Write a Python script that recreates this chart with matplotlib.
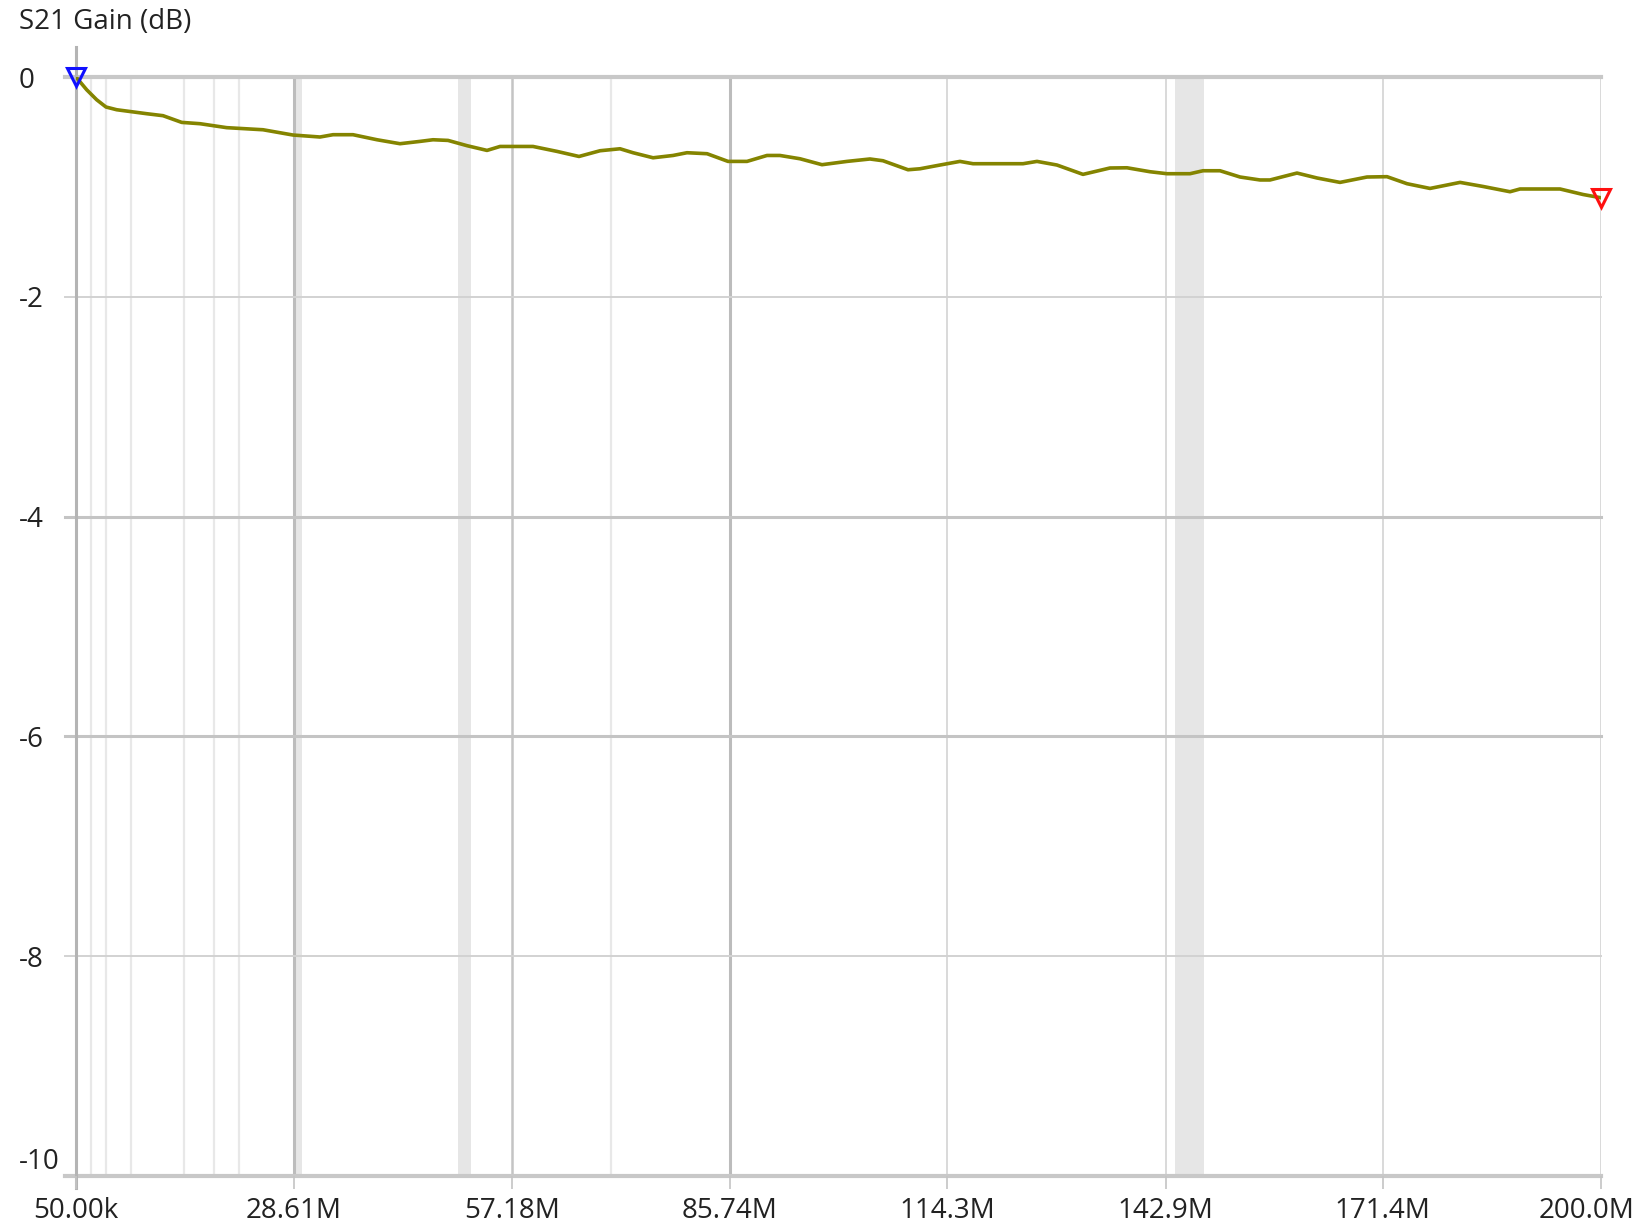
import matplotlib
matplotlib.use('Agg')
import matplotlib.pyplot as plt
import matplotlib.transforms as mtransforms
from matplotlib import font_manager

# trace: frequency (MHz) and S21 gain (dB)
freq_mhz = [0.05, 1.45, 2.76, 3.98, 5.39, 9.32, 11.46, 13.91, 16.31, 19.81,
            24.57, 28.50, 32.04, 33.75, 36.37, 39.52, 42.53, 45.15, 46.86, 48.83,
            51.32, 53.94, 55.65, 59.97, 63.12, 66.00, 68.76, 71.38, 73.08, 75.71,
            78.33, 80.16, 82.79, 85.54, 88.03, 90.65, 92.35, 94.98, 97.86, 101.14,
            104.15, 105.86, 109.14, 110.71, 113.33, 115.95, 117.66, 124.22, 126.05, 128.67,
            132.08, 135.62, 137.85, 140.87, 143.10, 146.11, 147.82, 150.05, 152.67, 155.29,
            156.60, 160.14, 162.77, 165.78, 169.32, 171.94, 174.57, 177.58, 181.52, 184.53,
            188.07, 189.38, 194.63, 197.64, 200.0]
gain_db = [0.0, -0.116, -0.207, -0.273, -0.298, -0.334, -0.352, -0.413, -0.425, -0.461,
           -0.480, -0.528, -0.546, -0.525, -0.525, -0.571, -0.607, -0.586, -0.571, -0.577,
           -0.625, -0.668, -0.632, -0.632, -0.677, -0.723, -0.671, -0.653, -0.689, -0.735,
           -0.714, -0.689, -0.698, -0.768, -0.768, -0.714, -0.714, -0.744, -0.798, -0.768,
           -0.746, -0.762, -0.844, -0.835, -0.801, -0.768, -0.789, -0.789, -0.768, -0.801,
           -0.886, -0.828, -0.826, -0.862, -0.880, -0.880, -0.853, -0.853, -0.910, -0.937,
           -0.937, -0.874, -0.919, -0.959, -0.910, -0.907, -0.971, -1.014, -0.959, -0.996,
           -1.044, -1.019, -1.019, -1.069, -1.099]

x_ticks = [0.05, 28.61, 57.18, 85.74, 114.3, 142.9, 171.4, 200.0]
x_labels = ['50.00k', '28.61M', '57.18M', '85.74M', '114.3M', '142.9M', '171.4M', '200.0M']
y_ticks = [0, -2, -4, -6, -8, -10]
y_labels = ['0', '-2', '-4', '-6', '-8', '-10']

# faint extra lines and shaded strips seen in the screenshot (MHz)
faint_lines = [2.0, 4.0, 7.2, 14.2, 18.1, 21.4, 70.2]
bands = [(28.6, 29.7), (50.2, 51.9), (144.1, 148.0)]

marker_start = (0.05, 0.0)
marker_end = (200.0, -1.099)

# pick a narrow font if one is there
font = 'DejaVu Sans'
for name in ['Liberation Sans Narrow', 'Open Sans', 'Noto Sans']:
    try:
        font_manager.findfont(name, fallback_to_default=False)
        font = name
        break
    except Exception:
        pass
plt.rcParams['font.family'] = font

fig = plt.figure(figsize=(16.44, 12.27), dpi=100)
ax = fig.add_axes([76 / 1644, 1 - 1176 / 1227, 1525 / 1644, 1099 / 1227])

for a, b in bands:
    ax.axvspan(a, b, color='#e6e6e6', lw=0, zorder=0)
for f in faint_lines:
    ax.axvline(f, color='#e8e8e8', lw=1.6, zorder=0.5)

# vertical grid, some lines rendered heavier than others
vwidths = [0, 2.2, 1.8, 2.2, 1.1, 1.1, 1.1, 1.1]
vcolors = ['#b8b8b8', '#bcbcbc', '#c4c4c4', '#bcbcbc', '#cfcfcf', '#cfcfcf', '#cfcfcf', '#cfcfcf']
for f, w, c in zip(x_ticks, vwidths, vcolors):
    if w:
        ax.axvline(f, color=c, lw=w, zorder=1)

hwidths = [3.0, 1.4, 2.2, 2.2, 1.4, 3.0]
hcolors = ['#c8c8c8', '#d2d2d2', '#c4c4c4', '#c4c4c4', '#d2d2d2', '#c8c8c8']
for g, w, c in zip(y_ticks, hwidths, hcolors):
    ax.plot([-0.007, 1.0], [g, g], transform=ax.get_yaxis_transform(),
            color=c, lw=w, clip_on=False, zorder=1)

# left axis line reaching above the plot
ax.plot([0, 0], [-0.011, 1.027], transform=ax.transAxes, color='#b4b4b4',
        lw=2.2, clip_on=False, zorder=1.5)

ax.plot(freq_mhz, gain_db, color='#848400', lw=2.6, zorder=3)
ax.plot(*marker_start, marker='v', ms=13, mfc='none', mec='#1010ff', mew=2.2,
        clip_on=False, zorder=4)
ax.plot(*marker_end, marker='v', ms=13, mfc='none', mec='#ff1010', mew=2.2,
        clip_on=False, zorder=4)

ax.set_xlim(0.05, 200.0)
ax.set_ylim(-10, 0)
for s in ax.spines.values():
    s.set_visible(False)

ax.set_xticks(x_ticks)
ax.set_xticklabels(x_labels, fontsize=20, color='#222222')
ax.tick_params(axis='x', length=9, width=1.2, color='#c4c4c4', pad=6)
# keep the last label inside the picture
last = ax.get_xticklabels()[-1]
last.set_transform(last.get_transform() +
                   mtransforms.ScaledTranslation(-14 / 100, 0, fig.dpi_scale_trans))

ax.set_yticks(y_ticks)
ax.set_yticklabels(y_labels, fontsize=20, color='#222222', ha='left')
ax.tick_params(axis='y', length=0, pad=41)
ax.get_yticklabels()[-1].set_va('bottom')

fig.text(19 / 1644, 1 - 22 / 1227, 'S21 Gain (dB)', fontsize=20,
         color='#222222', ha='left', va='center')

fig.savefig('out.png', dpi=100, facecolor='white')
